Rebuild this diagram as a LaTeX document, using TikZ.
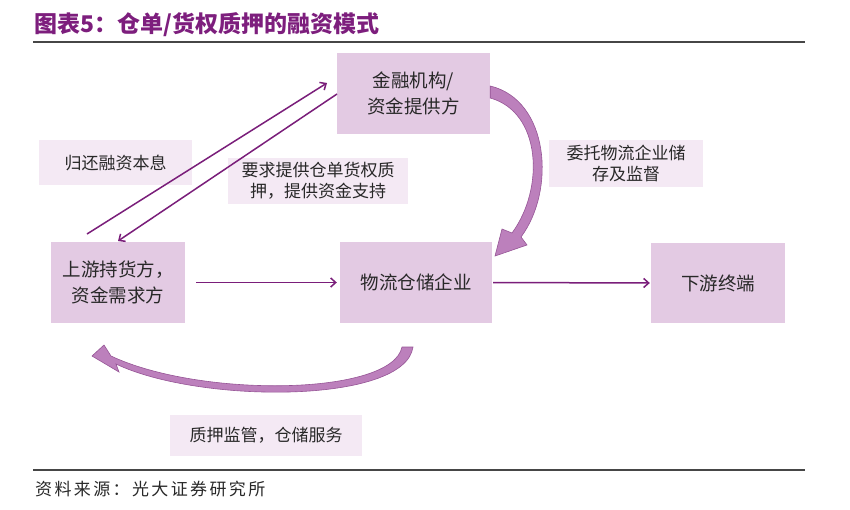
\documentclass[tikz,border=0pt]{standalone}
\usepackage{fontspec}
\newfontfamily\cjk{Noto Sans CJK SC}
\newfontfamily\cjksrc[LetterSpace=14]{Noto Sans CJK SC}
\usetikzlibrary{arrows.meta}
\definecolor{boxfill}{RGB}{227,202,227}
\definecolor{labfill}{RGB}{244,233,244}
\definecolor{arr}{RGB}{122,30,122}
\definecolor{curvefill}{RGB}{188,128,188}
\definecolor{curvedraw}{RGB}{150,85,150}
\definecolor{titlec}{RGB}{125,30,125}
\definecolor{rulec}{RGB}{70,70,70}
\definecolor{txt}{RGB}{40,40,40}
\begin{document}
\begin{tikzpicture}[x=1pt,y=-1pt,
  mainbox/.style={fill=boxfill,draw=none,align=center,font=\cjk\fontsize{18.5}{26}\selectfont,text=txt,inner sep=0pt},
  labbox/.style={fill=labfill,draw=none,align=center,font=\cjk\fontsize{17}{21}\selectfont,text=txt,inner sep=0pt},
  flow/.style={draw=arr,line width=1.5pt,-{Straight Barb[length=5pt,width=9pt,line width=1.5pt]}},
  bigarrow/.style={fill=curvefill,draw=curvedraw,line width=0.6pt}]
\useasboundingbox (0,0) rectangle (850,509);
\fill[white] (0,0) rectangle (850,509);
% title
\node[anchor=west,inner sep=0pt,text=titlec,font=\cjk\bfseries\fontsize{23}{26}\selectfont] (title) at (34,25) {图表5：仓单/货权质押的融资模式};
\draw[rulec,line width=1.6pt] (33,42) -- (805,42);
\draw[rulec,line width=1.6pt] (33,470) -- (805,470);
\node[anchor=west,inner sep=0pt,text=txt,font=\cjksrc\fontsize{17}{20}\selectfont] (src) at (35,489) {资料来源：光大证券研究所};
% main boxes
\node[mainbox,minimum width=153pt,minimum height=81pt] (fin) at (413.5,93.5) {金融机构/\\资金提供方};
\node[mainbox,minimum width=134pt,minimum height=81pt] (up) at (118,282.5) {上游持货方，\\资金需求方};
\node[mainbox,minimum width=152pt,minimum height=81pt] (log) at (416,282.5) {物流仓储企业};
\node[mainbox,minimum width=134pt,minimum height=80pt] (down) at (718,283) {下游终端};
% label boxes
\node[labbox,minimum width=153pt,minimum height=45pt] (l1) at (115.5,162.5) {归还融资本息};
\node[labbox,minimum width=180pt,minimum height=46pt] (l2) at (318,181) {要求提供仓单货权质\\押，提供资金支持};
\node[labbox,minimum width=154pt,minimum height=47pt] (l3) at (626,163.5) {委托物流企业储\\存及监督};
\node[labbox,minimum width=192pt,minimum height=41pt] (l4) at (266,435.5) {质押监管，仓储服务};
% straight arrows
\coordinate (r1s) at (87,234);
\coordinate (r1e) at (327,83);
\coordinate (r2s) at (337,94);
\coordinate (r2e) at (118,241);
\draw[flow] (r1s) -- (r1e);
\draw[flow] (r2s) -- (r2e);
\draw[flow] (up.east |- up.center) ++(11,0) coordinate (h1s) -- ([xshift=-3pt]log.west);
\draw[flow] ([xshift=1pt]log.east) -- ([xshift=-1pt]down.west);
% right curved arrow (fin -> log)
\draw[bigarrow] (fin.east |- 0,86) .. controls (549,100) and (556,190) .. (521,237)
  -- (527,245) -- (495,256) -- (502,229) -- (512,233)
  .. controls (545,188) and (541,112) .. (fin.east |- 0,98) -- cycle;
% bottom curved arrow (log -> up)
\draw[bigarrow] (413,347) .. controls (405,404) and (200,404) .. (116,364)
  -- (119,372) -- (92,356) -- (104,345) -- (111,356)
  .. controls (200,398) and (392,396) .. (402,347) -- cycle;
\end{tikzpicture}
\end{document}
